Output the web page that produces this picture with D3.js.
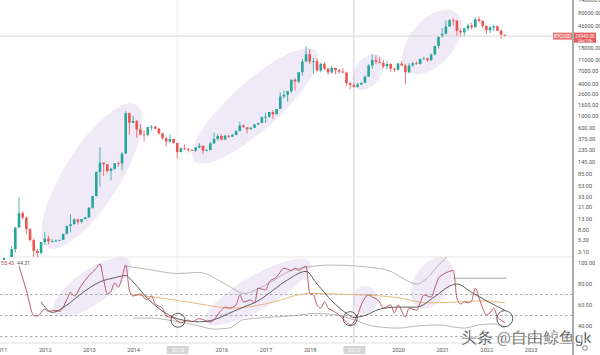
<!DOCTYPE html>
<html><head><meta charset="utf-8">
<script src="https://cdn.jsdelivr.net/npm/d3@7/dist/d3.min.js"></script>
<style>body{margin:0;background:#fff;overflow:hidden}svg{display:block}text{font-family:Roboto,"Liberation Sans",sans-serif}</style>
</head><body><svg id="c" width="600" height="355"></svg>
<script>
// ---- data: monthly BTCUSD candles, first month 2011-01 ----
const startYear = 2011;
const opens = [0.30,0.52,0.86,0.78,3.50,8.74,16.10,13.35,8.19,5.14,3.25,2.97,
 4.72,5.50,4.90,4.90,5.00,5.20,6.70,9.40,10.10,12.40,11.20,12.60,
 13.5,20.4,33.4,93,139,129,97,106,135,133,204,1130,
 755,815,570,457,447,628,639,586,481,388,338,378,
 320,217,254,244,236,230,263,284,230,236,314,377,
 430,369,436,416,448,531,673,624,573,608,700,745,
 964,968,1190,1080,1350,2300,2480,2875,4700,4340,6450,10200,
 13880,10110,10330,6930,9240,7490,6390,7730,7030,6630,6370,4040,
 3740,3460,3820,4100,5320,8560,10820,10090,9600,8290,9150,7540,
 7190,9350,8540,6420,8630,9450,9140,11350,11650,10780,13800,19700,
 28990,33110,45140,58740,57750,37300,35040,41460,47100,43790,61300,57000,
 46210,38480,43190,45510,37630,31800];
const highs = [0.95,1.10,0.95,4.00,9.00,32.0,17.5,13.9,8.70,5.50,3.50,4.80,
 7.20,6.20,5.40,5.30,5.20,6.70,9.40,15.4,12.9,12.7,12.6,13.7,
 20.8,33.6,95,266,140,129,111,135,145,215,1240,1165,
 1020,850,710,550,630,680,660,600,495,415,460,385,
 320,265,300,261,247,268,316,285,244,334,500,465,
 463,448,439,468,549,780,705,625,630,720,755,980,
 1150,1200,1290,1350,2760,2980,2920,4740,5000,6470,11400,19660,
 17180,11790,11700,9760,9990,7760,8480,7760,7410,7680,6600,4270,
 4110,4210,4140,5620,9090,13880,13200,12330,10950,10370,9510,7750,
 9580,10520,9190,9460,10070,10380,11450,12470,12070,14100,19860,29300,
 41950,58350,61780,64850,59500,41300,42400,50500,52900,67000,69000,59100,
 47990,45800,48190,47440,40000,31900];
const lows = [0.29,0.50,0.70,0.60,3.00,9.50,12.4,6.60,4.80,2.00,2.00,2.80,
 4.20,4.30,4.60,4.80,4.90,5.20,6.60,7.10,9.90,9.90,10.5,12.3,
 13.2,19.5,33,50,79,88,65,101,118,100,200,450,
 740,400,450,340,420,540,570,450,370,275,320,310,
 165,212,236,214,228,217,253,198,225,235,305,350,
 354,365,395,412,442,525,605,480,566,600,685,745,
 750,935,890,1080,1350,2100,1830,2670,2980,4100,5550,9900,
 9200,6000,6600,6430,7040,5780,6070,5880,6100,6180,3650,3130,
 3350,3390,3730,4090,5320,7480,9070,9400,7700,7300,6540,6430,
 6870,8450,3850,6160,8130,8830,8970,10990,9880,10370,13220,17650,
 28130,32400,45000,47000,30000,28800,29300,37330,39600,43280,53250,42000,
 32950,34320,37160,37700,26700,29300];
const closes = [0.52,0.86,0.78,3.50,8.74,16.10,13.35,8.19,5.14,3.25,2.97,4.72,
 5.50,4.90,4.90,5.00,5.20,6.70,9.40,10.10,12.40,11.20,12.60,13.50,
 20.4,33.4,93,139,129,97,106,135,133,204,1130,755,
 815,570,457,447,628,639,586,481,388,338,378,320,
 217,254,244,236,230,263,284,230,236,314,377,430,
 369,436,416,448,531,673,624,573,608,700,745,964,
 968,1190,1080,1350,2300,2480,2875,4700,4340,6450,10200,13880,
 10110,10330,6930,9240,7490,6390,7730,7030,6630,6370,4040,3740,
 3460,3820,4100,5320,8560,10820,10090,9600,8290,9150,7540,7190,
 9350,8540,6420,8630,9450,9140,11350,11650,10780,13800,19700,28990,
 33110,45140,58740,57750,37300,35040,41460,47100,43790,61300,57000,46210,
 38480,43190,45510,37630,31800,29940];

const priceTicks = [3.1,5.3,8,13,21,33,53,85,145,235,375,600,1000,1600,2600,4000,7000,11000,18000,46000,80000,140000];
const rsiTicks = [40,60,80,100];
const rsiLevels = [30,50,70];
const yearLabels = ["2011","2012","2013","2014","2015","2016","2017","2018","2019","2020","2021","2022","2023"];
const markedYears = ["2015","2019"];

// RSI (month index from 2011-01, value)
const rsiIdx = [5,7,9,10,12,13,15,16,18,19,20,22,24,26,27,28,29,30,31,32,33,34,35,36,38,39,40,41,42,44,45,47,49,51,52,54,57,60,61,62,64,65,66,68,69,70,72,73,75,76,77,79,80,81,83,84,85,86,87,88,89,90,92,94,95,97,98,100,101,103,104,106,107,108,110,111,113,114,115,117,118,119,120,122,123,124,125,126,127,128,129,130,131,132,133,134,135,136,137];
const rsiVal = [97,74,50,49.5,56,54,55,54,65,72,68.6,79,88,95,99,84,70.5,73,81,77,86,98,74,68.6,70.5,66.7,65,68.6,61,57,49.5,47.6,43,45.7,44,47,43.8,55,58,57,60,69.5,62.9,64.8,61.9,76,74.3,82,86.7,91.4,95,93,95,93,97,71.4,69.5,60,57,62.9,57,55,50.5,43.8,41,50.5,60,69.5,67.6,62.9,57,60,52.4,60,48.6,57,55,61.9,69.5,67.6,76,85.7,88.6,92,93,66.7,61,63,62,64,76,66.7,57,50.5,52.4,57,48.6,45.7,43];
const maIdx = [11,14,18,22,27,31,34,36,40,45,49,54,58,62,66,70,74,78,83,86,90,94,96,99,103,108,113,118,122,124,128,132,137];
const maVal = [63,53,60,71,82,86,88,82,66,52,46,44,46,52,58,64,74,84,92,80,64,52,48,50,56,58,58,68,78,80,72,64,55];
const upIdx = [34,40,48,54,60,63,66,72,79,83,90,100,106,110,113,116,119,122];
const upVal = [97,94,90,91,82,76,71,79,93,96,98,96,92,84,80,86,98,108];
const loIdx = [36,41,45,50,54,58,62,66,72,80,86,92,96,101,108,113,119,126,130,134,137];
const loVal = [47.6,47.6,46,43,40,37,38,46,48,50,52,50,46,40,38,40,41,38,41,42,38];
const longIdx = [36,45,54,63,72,84,95,108,116,125,131,137];
const longVal = [70,66,61,57,61,71,70,67,62,63,64,62];
const rayIdx = [123,137.5];
const rayVal = [85.5,85.5];

// ---- layout ----
const W = 600, H = 355, axisX = 573, paneSep = 257, timeY = 343;
const svg = d3.select("#c");
svg.append("rect").attr("width",W).attr("height",H).attr("fill","#fff");

const x = d3.scaleLinear().domain([0,144]).range([0.6, 0.6+144*3.68]);
const yP = d3.scaleLog().domain([3.1,80000]).range([252,13]);
const yR = d3.scaleLinear().domain([40,100]).range([326,263]);

const defs = svg.append("defs");
defs.append("clipPath").attr("id","cp").append("rect").attr("x",0).attr("y",0).attr("width",axisX).attr("height",paneSep);
defs.append("clipPath").attr("id","cr").append("rect").attr("x",0).attr("y",paneSep).attr("width",axisX).attr("height",timeY-paneSep);

[48,96].forEach((m,k)=>{
  svg.append("line").attr("x1",x(m)).attr("x2",x(m)).attr("y1",0).attr("y2",timeY)
    .attr("stroke",k?"#cfcfcf":"#ececec").attr("stroke-width",1);
});
svg.append("line").attr("x1",0).attr("x2",axisX).attr("y1",paneSep).attr("y2",paneSep).attr("stroke","#e6e6e6");
svg.append("line").attr("x1",0).attr("x2",axisX).attr("y1",timeY).attr("y2",timeY).attr("stroke","#e0e0e0");

const gP = svg.append("g").attr("clip-path","url(#cp)");
const ell = (g,cx,cy,rx,ry,ang)=>g.append("ellipse").attr("cx",cx).attr("cy",cy).attr("rx",rx).attr("ry",ry)
  .attr("transform",`rotate(${ang},${cx},${cy})`).attr("fill","#b58fd6").attr("fill-opacity",0.2);
ell(gP,92,176,84,28,-58);
ell(gP,255,106,82,24,-42);
ell(gP,368,72,20,13,-55);
ell(gP,432,42,38,22,-50);

const last = closes[closes.length-1];
svg.append("line").attr("x1",0).attr("x2",axisX).attr("y1",yP(last)).attr("y2",yP(last))
  .attr("stroke","#d6d6d6").attr("stroke-width",1);

const up="#26a69a", dn="#ef5350";
const cg = gP.append("g");
closes.forEach((c,i)=>{
  const o=opens[i], col = c>=o?up:dn, cx=x(i);
  cg.append("line").attr("x1",cx).attr("x2",cx).attr("y1",yP(highs[i])).attr("y2",yP(lows[i])).attr("stroke",col).attr("stroke-width",0.8);
  const t=yP(Math.max(o,c)), b=yP(Math.min(o,c));
  cg.append("rect").attr("x",cx-1.3).attr("width",2.6).attr("y",t).attr("height",Math.max(0.8,b-t)).attr("fill",col);
});

svg.append("line").attr("x1",axisX).attr("x2",axisX).attr("y1",0).attr("y2",H).attr("stroke","#5a5a5a").attr("stroke-width",1);
const pa = svg.append("g").attr("transform",`translate(${axisX},0)`)
  .call(d3.axisRight(yP).tickValues(priceTicks).tickSize(0).tickPadding(5).tickFormat(d=>d.toFixed(2)));
pa.select(".domain").remove();
pa.selectAll("text").attr("font-size",5.6).attr("fill","#555");

const ty = yP(last);
svg.append("rect").attr("x",553).attr("y",ty-3.5).attr("width",19).attr("height",7).attr("fill","#e57373");
svg.append("text").attr("x",562.5).attr("y",ty+2).attr("text-anchor","middle").attr("font-size",4.6).attr("fill","#fff").text("BTCUSD");
svg.append("rect").attr("x",574).attr("y",ty-3.5).attr("width",22).attr("height",10).attr("fill","#e05a5a");
svg.append("text").attr("x",585).attr("y",ty+1.5).attr("text-anchor","middle").attr("font-size",4.6).attr("fill","#fff").text(last.toFixed(2));
svg.append("text").attr("x",585).attr("y",ty+5.8).attr("text-anchor","middle").attr("font-size",4.2).attr("fill","#fff").text("24d 10h");

// ---- RSI pane ----
const gR = svg.append("g").attr("clip-path","url(#cr)");
ell(gR,92,287,46,17,-35);
ell(gR,258,292,60,17,-30);
ell(gR,365,300,12,14,0);
ell(gR,432,283,28,18,-60);

rsiLevels.forEach(v=>{
  gR.append("line").attr("x1",0).attr("x2",axisX).attr("y1",yR(v)).attr("y2",yR(v))
    .attr("stroke","#8a8a8a").attr("stroke-width",0.7).attr("stroke-dasharray","2.5,2.5");
});
const ln = d3.line().curve(d3.curveMonotoneX);
const drawLine=(idx,val,col,w)=>gR.append("path").attr("d",ln(idx.map((m,k)=>[x(m),yR(val[k])])))
  .attr("fill","none").attr("stroke",col).attr("stroke-width",w);
drawLine(upIdx,upVal,"#9a9a9a",0.7);
drawLine(loIdx,loVal,"#9a9a9a",0.7);
drawLine(longIdx,longVal,"#e3b36b",0.9);
drawLine(maIdx,maVal,"#333",0.8);
drawLine(rsiIdx,rsiVal.map(v=>Math.min(v,99.5)),"#b5485a",0.9);
drawLine(rayIdx,rayVal,"#8a8a8a",0.8);
[[48.2,45.5,7],[95,47,7],[137,47,8]].forEach(([m,v,r])=>{
  gR.append("circle").attr("cx",x(m)).attr("cy",yR(v)).attr("r",r).attr("fill","none").attr("stroke","#333").attr("stroke-width",0.8);
});
svg.append("circle").attr("cx",4).attr("cy",259).attr("r",1.3).attr("fill","#26a69a");
svg.append("text").attr("x",1).attr("y",265).attr("font-size",5.2).attr("fill","#b5485a").text("55.43");
svg.append("text").attr("x",17).attr("y",265).attr("font-size",5.2).attr("fill","#555").text("44.31");

const ra = svg.append("g").attr("transform",`translate(${axisX},0)`)
  .call(d3.axisRight(yR).tickValues(rsiTicks).tickSize(0).tickPadding(5).tickFormat(d=>d.toFixed(2)));
ra.select(".domain").remove();
ra.selectAll("text").attr("font-size",5.6).attr("fill","#555");

const ta = svg.append("g").attr("transform",`translate(0,${timeY})`)
  .call(d3.axisBottom(x).tickValues(yearLabels.map((_,k)=>k*12)).tickSize(0).tickPadding(5).tickFormat((d,k)=>yearLabels[k]));
ta.select(".domain").remove();
ta.selectAll("text").attr("font-size",5.6).attr("fill","#555");
ta.selectAll(".tick").each(function(d,k){
  if(markedYears.includes(yearLabels[k])){
    const g=d3.select(this);
    g.insert("rect","text").attr("x",-11).attr("y",3).attr("width",22).attr("height",8).attr("fill","#d4d4d4");
    g.select("text").attr("fill","#fff");
  }
});
svg.append("circle").attr("cx",585).attr("cy",348).attr("r",2.3).attr("fill","none").attr("stroke","#666").attr("stroke-width",0.8);

svg.append("text").attr("x",461).attr("y",343).attr("font-size",15.5)
  .attr("font-family","'Noto Sans CJK SC',sans-serif").attr("fill","#2a2a2a")
  .attr("stroke","#fff").attr("stroke-width",0.3).text("头条 @自由鲸鱼gk");
</script></body></html>
